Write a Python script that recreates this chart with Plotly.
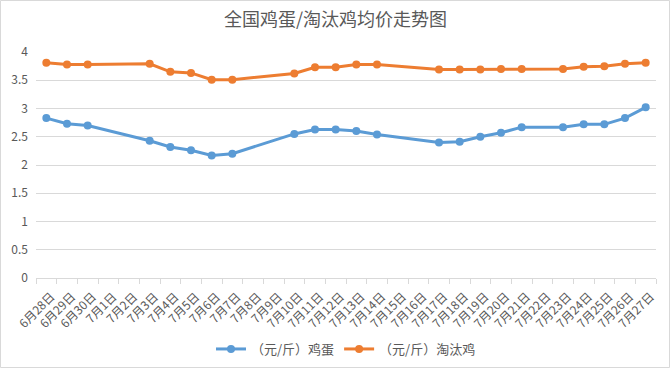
import plotly.graph_objects as go

categories = ["6月28日", "6月29日", "6月30日", "7月1日", "7月2日", "7月3日", "7月4日", "7月5日",
              "7月6日", "7月7日", "7月8日", "7月9日", "7月10日", "7月11日", "7月12日", "7月13日",
              "7月14日", "7月15日", "7月16日", "7月17日", "7月18日", "7月19日", "7月20日", "7月21日",
              "7月22日", "7月23日", "7月24日", "7月25日", "7月26日", "7月27日"]

egg = [2.83, 2.73, 2.70, None, None, 2.43, 2.32, 2.26, 2.17, 2.20, None, None, 2.55, 2.63, 2.63, 2.60,
       2.54, None, None, 2.40, 2.41, 2.50, 2.57, 2.67, None, 2.67, 2.72, 2.72, 2.83, 3.02]
hen = [3.81, 3.78, 3.78, None, None, 3.79, 3.65, 3.63, 3.51, 3.51, None, None, 3.62, 3.73, 3.73, 3.78,
       3.78, None, None, 3.69, 3.69, 3.69, 3.70, 3.70, None, 3.70, 3.74, 3.75, 3.79, 3.81]

y_ticks = [0, 0.5, 1, 1.5, 2, 2.5, 3, 3.5, 4]
y_labels = ["0", "0.5", "1", "1.5", "2", "2.5", "3", "3.5", "4"]

FONT = "Noto Sans CJK SC, Microsoft YaHei, sans-serif"
TXT = "#595959"

fig = go.Figure()
fig.add_trace(go.Scatter(x=categories, y=egg, name="（元/斤）鸡蛋", mode="lines+markers",
                         connectgaps=True, line=dict(color="#5B9BD5", width=3),
                         marker=dict(size=8, color="#5B9BD5")))
fig.add_trace(go.Scatter(x=categories, y=hen, name="（元/斤）淘汰鸡", mode="lines+markers",
                         connectgaps=True, line=dict(color="#ED7D31", width=3),
                         marker=dict(size=8, color="#ED7D31")))

W, H = 671, 369
ml, mr, mt, mb = 36, 15, 52, 91
pw, ph = W - ml - mr, H - mt - mb

fig.update_layout(
    width=W, height=H,
    margin=dict(l=ml, r=mr, t=mt, b=mb, autoexpand=False),
    paper_bgcolor="white", plot_bgcolor="white",
    font=dict(family=FONT, color=TXT, size=12),
    title=dict(text="全国鸡蛋/淘汰鸡均价走势图", x=0.5, xanchor="center", y=1 - 20 / H, yanchor="middle",
               font=dict(size=18, color=TXT, family=FONT)),
    showlegend=True,
    legend=dict(orientation="h", x=0.5, xanchor="center", y=-(349 - mt - ph) / ph, yanchor="middle",
                font=dict(size=13, color=TXT), itemwidth=30),
    xaxis=dict(type="category", tickangle=-45, showgrid=False, showline=True, linecolor="#d9d9d9",
               linewidth=1, ticks="outside", tickson="boundaries", ticklen=5, tickcolor="#d9d9d9",
               tickfont=dict(size=12, color=TXT), range=[-0.5, len(categories) - 0.5],
               automargin=False, ticklabelstandoff=6, ticklabelshift=5),
    yaxis=dict(range=[0, 4], tickvals=y_ticks, ticktext=y_labels, showgrid=True, gridcolor="#d9d9d9",
               gridwidth=1, zeroline=False, showline=False, ticks="", ticklabelstandoff=7,
               tickfont=dict(size=12, color=TXT), automargin=False),
    shapes=[dict(type="rect", xref="paper", yref="paper",
                 x0=-(ml - 0.5) / pw, x1=1 + (mr - 1.5) / pw,
                 y0=-(mb - 1.5) / ph, y1=1 + (mt - 0.5) / ph,
                 line=dict(color="#d9d9d9", width=1), fillcolor="rgba(0,0,0,0)", layer="below")],
)

fig.write_html("out.html", config={"displayModeBar": False},
               post_script="document.body.style.margin='0';document.body.style.overflow='hidden';")
